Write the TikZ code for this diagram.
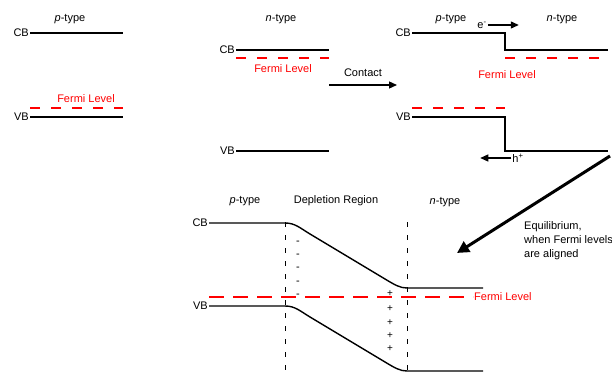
\documentclass[tikz,border=0pt]{standalone}
\usepackage{fontspec}
\setmainfont{Liberation Sans}
\usepackage{tikz}
\usetikzlibrary{arrows.meta}
\usetikzlibrary{positioning}

\tikzset{
  band/.style={line width=1.4pt},
  fermi/.style={red, line width=1.4pt, dash pattern=on 10pt off 11pt},
  fermibig/.style={red, line width=1.4pt, dash pattern=on 15pt off 9pt},
  edge/.style={line width=1pt, dash pattern=on 5pt off 8pt},
  lbl/.style={font=\fontsize{11}{13}\selectfont, inner sep=1pt},
  redlbl/.style={lbl, text=red},
  push/.style={line width=1.3pt, -{Triangle[length=8pt,width=7pt]}}
}

\begin{document}
\begin{tikzpicture}[x=1pt,y=-1pt]
            \useasboundingbox (0,0) rectangle (612,374);

            % p-type alone
            \draw (70,19) node[lbl]                    (pt1) {\textit{p}-type};
            \draw (30,33) node[lbl, anchor=east]       (cb1) {CB};
            \draw (30,117) node[lbl, anchor=east]      (vb1) {VB};
            \draw (86,99) node[redlbl]                 (fl1) {Fermi Level};
            \coordinate (cb1e) at (123,33);
            \coordinate (vb1e) at (123,117);
            \draw[band] (cb1.east) -- (cb1e);
            \draw[band] (vb1.east) -- (vb1e);
            \draw[fermi] (30,108) -- (123,108);

            % n-type alone
            \draw (281,19) node[lbl]                   (nt2) {\textit{n}-type};
            \draw (236,50) node[lbl, anchor=east]      (cb2) {CB};
            \draw (236,151) node[lbl, anchor=east]     (vb2) {VB};
            \draw (283,69) node[redlbl]                (fl2) {Fermi Level};
            \coordinate (cb2e) at (329,50);
            \coordinate (vb2e) at (329,151);
            \draw[band] (cb2.east) -- (cb2e);
            \draw[band] (vb2.east) -- (vb2e);
            \draw[fermi] (236,58) -- (329,58);

            % contact
            \draw (363,73) node[lbl]                   (con) {Contact};
            \coordinate (cona) at (329,85);
            \coordinate (conb) at (397,85);
            \draw[push] (cona) -- (conb);

            % just after contact
            \draw (451,19) node[lbl]                   (pt3) {\textit{p}-type};
            \draw (562,19) node[lbl]                   (nt3) {\textit{n}-type};
            \draw (412,33) node[lbl, anchor=east]      (cb3) {CB};
            \draw (412,117) node[lbl, anchor=east]     (vb3) {VB};
            \draw (507,75) node[redlbl]                (fl3) {Fermi Level};
            \draw[band] (cb3.east) -- (505,33) -- (505,50) -- (608,50);
            \draw[band] (vb3.east) -- (505,117) -- (505,151) -- (608,151);
            \draw[fermi] (412,108) -- (505,108);
            \draw[fermi] (505,58) -- (608,58);
            \draw (482,25) node[lbl]                   (el) {e\textsuperscript{-}};
            \draw (518,158) node[lbl]                  (ho) {h\textsuperscript{+}};
            \draw[push, line width=1.2pt] (el.east) -- ++(31,0);
            \draw[push, line width=1.2pt] (ho.west) -- ++(-31,0);

            % towards equilibrium
            \coordinate (eqa) at (610,156);
            \coordinate (eqb) at (457,253);
            \draw[line width=3pt, -{Triangle[length=12pt,width=12pt]}] (eqa) -- (eqb);
            \draw (523,220) node[lbl, anchor=north west, align=left, font=\fontsize{11}{14}\selectfont] (eq)
              {Equilibrium,\\when Fermi levels\\are aligned};

            % equilibrium band diagram
            \draw (245,201) node[lbl]                  (pt4) {\textit{p}-type};
            \draw (336,201) node[lbl]                  (dr4) {Depletion Region};
            \draw (445,202) node[lbl]                  (nt4) {\textit{n}-type};
            \draw (209,223) node[lbl, anchor=east]     (cb4) {CB};
            \draw (209,306) node[lbl, anchor=east]     (vb4) {VB};
            \draw (473,297) node[redlbl, anchor=west]  (fl4) {Fermi Level};
            \draw[fermibig] (209,297) -- (fl4.west);
            \draw[band] (cb4.east) -- (285,223) .. controls (295,223) and (300,228) .. (310,234)
              -- (385,279) .. controls (395,285) and (400,288) .. (407,288) -- (483,288);
            \draw[band] (vb4.east) -- (285,306) .. controls (295,306) and (300,311) .. (310,317)
              -- (385,362) .. controls (395,368) and (400,371) .. (407,371) -- (483,371);
            \draw[edge] (285,222) -- (285,374);
            \draw[edge] (407,222) -- (407,374);
            \foreach \y in {243,256,269,283,296}
              \draw (298,\y) node[lbl] {-};
            \foreach \y in {294,309,323,336,349}
              \draw (390,\y) node[lbl, font=\fontsize{10}{10}\selectfont] {+};

\end{tikzpicture}
\end{document}
